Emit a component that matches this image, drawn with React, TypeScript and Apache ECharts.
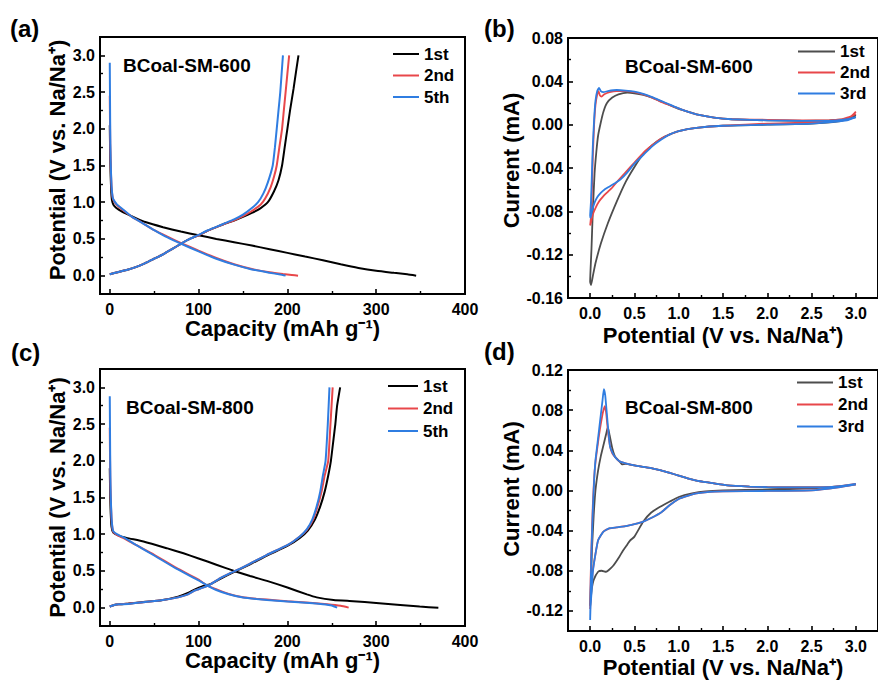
import React, { useEffect, useRef } from "react";
import * as echarts from "echarts";

// ---------- tick values ----------
const capMajor = [0, 100, 200, 300, 400];
const capMinor = [50, 150, 250, 350];
const potMajor = [0, 0.5, 1, 1.5, 2, 2.5, 3];
const potMinor = [0.25, 0.75, 1.25, 1.75, 2.25, 2.75];
const curBMajor = [-0.16, -0.12, -0.08, -0.04, 0, 0.04, 0.08];
const curBMinor = [-0.14, -0.1, -0.06, -0.02, 0.02, 0.06];
const curDMajor = [-0.12, -0.08, -0.04, 0, 0.04, 0.08, 0.12];
const curDMinor = [-0.1, -0.06, -0.02, 0.02, 0.06, 0.1];

const gcdNames = ["1st", "2nd", "5th"];
const cvNames = ["1st", "2nd", "3rd"];

// ---------- (a) BCoal-SM-600 GCD: [capacity mAh/g, potential V] ----------
const a1Dis = [[0,2.05],[0.5,1.6],[1,1.35],[2,1.08],[3,1.0],[5,0.95],[10,0.9],[19,0.84],[30,0.78],[40,0.73],[60,0.66],[80,0.6],[100,0.55],[120,0.5],[140,0.455],[160,0.41],[180,0.36],[200,0.31],[220,0.26],[240,0.21],[260,0.155],[280,0.105],[300,0.066],[320,0.038],[335,0.018],[345,0.0]];
const a2Dis = [[0,2.45],[0.5,1.8],[1,1.5],[2,1.2],[3,1.08],[4,1.03],[8,0.96],[15,0.89],[25,0.8],[35,0.73],[50,0.62],[65,0.53],[81,0.44],[100,0.34],[120,0.24],[140,0.155],[160,0.09],[180,0.045],[195,0.022],[205,0.01],[212,0.0]];
const a5Dis = [[0,2.9],[0.5,2.0],[1,1.55],[2,1.22],[3,1.09],[4,1.04],[8,0.97],[15,0.9],[25,0.8],[35,0.73],[50,0.62],[65,0.52],[81,0.43],[100,0.33],[120,0.23],[140,0.15],[160,0.085],[180,0.04],[192,0.015],[198,0.0]];
const a1Chg = [[0,0.02],[10,0.05],[20,0.08],[30,0.12],[40,0.17],[50,0.23],[60,0.29],[70,0.36],[81,0.44],[90,0.5],[100,0.55],[110,0.61],[120,0.66],[130,0.71],[140,0.75],[150,0.8],[160,0.855],[170,0.92],[178,1.0],[185,1.15],[190,1.3],[194,1.5],[197,1.75],[200,2.0],[203,2.25],[207,2.55],[210,2.8],[212.5,3.0]];
const a2Chg = [[0,0.02],[10,0.05],[20,0.08],[30,0.12],[40,0.17],[50,0.23],[60,0.29],[70,0.36],[81,0.44],[90,0.5],[100,0.55],[110,0.61],[120,0.66],[130,0.71],[140,0.755],[150,0.81],[160,0.88],[170,0.97],[175,1.05],[181,1.2],[185,1.35],[188,1.5],[191,1.75],[194,2.0],[196,2.25],[198,2.5],[200,2.75],[202,3.0]];
const a5Chg = [[0,0.02],[10,0.05],[20,0.08],[30,0.12],[40,0.17],[50,0.23],[60,0.29],[70,0.36],[81,0.44],[90,0.5],[100,0.555],[110,0.615],[120,0.665],[130,0.715],[140,0.765],[150,0.83],[160,0.92],[167,1.0],[173,1.12],[178,1.27],[183.5,1.5],[186,1.75],[188,2.0],[190,2.25],[192,2.5],[193.5,2.75],[195,3.0]];

// ---------- (c) BCoal-SM-800 GCD ----------
const c1Dis = [[0,1.9],[0.5,1.5],[1,1.3],[2,1.1],[4,1.02],[10,0.98],[19,0.95],[38,0.9],[64,0.81],[83,0.74],[100,0.67],[120,0.585],[140,0.5],[158,0.43],[177,0.365],[200,0.275],[222,0.18],[233,0.14],[252,0.105],[274,0.088],[300,0.064],[327,0.036],[349,0.014],[370,0.0]];
const c2Dis = [[0,2.45],[0.5,1.8],[1,1.5],[2,1.2],[3,1.08],[4,1.03],[8,0.99],[15,0.95],[30,0.85],[50,0.72],[75,0.54],[100,0.38],[110,0.3],[120,0.25],[133,0.19],[150,0.142],[165,0.122],[177,0.11],[200,0.088],[225,0.068],[245,0.047],[260,0.025],[269,0.0]];
const c5Dis = [[0,2.88],[0.5,2.0],[1,1.55],[2,1.22],[3,1.09],[4,1.04],[8,1.0],[15,0.96],[30,0.85],[50,0.71],[75,0.53],[100,0.37],[110,0.3],[120,0.24],[133,0.185],[150,0.138],[165,0.117],[177,0.105],[200,0.085],[225,0.063],[240,0.047],[250,0.03],[256,0.0]];
const c1Chg = [[0,0.015],[5,0.035],[10,0.045],[21,0.055],[40,0.08],[58,0.1],[77,0.15],[88,0.2],[96,0.25],[104,0.29],[113,0.32],[124,0.39],[139,0.48],[158,0.59],[177,0.71],[200,0.84],[214,0.95],[223,1.05],[231,1.2],[237,1.38],[242,1.58],[246,1.8],[249,2.0],[252,2.3],[254,2.5],[256,2.75],[259.4,3.0]];
const c2Chg = [[0,0.015],[5,0.035],[10,0.045],[21,0.052],[40,0.078],[58,0.1],[77,0.14],[88,0.18],[96,0.235],[104,0.27],[113,0.315],[124,0.4],[134,0.46],[145,0.52],[158,0.6],[177,0.72],[200,0.85],[214,0.97],[222,1.06],[229,1.2],[234,1.38],[238.5,1.58],[242,1.8],[246,2.0],[248.5,2.5],[251,3.0]];
const c5Chg = [[0,0.015],[5,0.035],[10,0.045],[21,0.05],[40,0.077],[58,0.1],[77,0.14],[88,0.18],[96,0.235],[104,0.27],[113,0.315],[124,0.4],[134,0.46],[145,0.52],[158,0.6],[177,0.72],[200,0.85],[214,0.97],[222,1.07],[228,1.2],[233,1.38],[237,1.58],[240,1.8],[243,2.0],[245.5,2.5],[247.4,3.0]];

// ---------- (b) BCoal-SM-600 CV: [potential V, current mA] ----------
const b1 = [[3.0,0.007],[2.8,0.003],[2.5,0.001],[2.0,0.0],[1.5,-0.001],[1.2,-0.003],[1.0,-0.006],[0.9,-0.009],[0.8,-0.013],[0.7,-0.019],[0.6,-0.027],[0.5,-0.039],[0.4,-0.053],[0.3,-0.071],[0.2,-0.091],[0.12,-0.11],[0.06,-0.128],[0.03,-0.14],[0.01,-0.148],[0.0,-0.145],[0.015,-0.115],[0.03,-0.08],[0.05,-0.045],[0.07,-0.025],[0.09,-0.01],[0.12,0.002],[0.15,0.012],[0.19,0.02],[0.25,0.025],[0.32,0.028],[0.42,0.0295],[0.5,0.029],[0.6,0.0275],[0.7,0.025],[0.8,0.0215],[0.9,0.018],[1.0,0.0145],[1.1,0.012],[1.2,0.0095],[1.4,0.0065],[1.6,0.005],[2.0,0.004],[2.4,0.0035],[2.7,0.004],[2.9,0.005],[3.0,0.009]];
const b2 = [[3.0,0.012],[2.95,0.008],[2.8,0.004],[2.5,0.002],[2.0,0.001],[1.5,-0.001],[1.2,-0.003],[1.0,-0.006],[0.9,-0.009],[0.8,-0.013],[0.7,-0.019],[0.6,-0.026],[0.5,-0.035],[0.4,-0.044],[0.3,-0.053],[0.25,-0.058],[0.2,-0.062],[0.15,-0.066],[0.1,-0.071],[0.06,-0.077],[0.03,-0.083],[0.01,-0.09],[0.0,-0.093],[0.01,-0.085],[0.02,-0.06],[0.03,-0.03],[0.045,0.0],[0.06,0.018],[0.08,0.028],[0.095,0.031],[0.11,0.027],[0.13,0.026],[0.16,0.028],[0.22,0.03],[0.3,0.031],[0.4,0.031],[0.5,0.03],[0.6,0.028],[0.7,0.025],[0.8,0.021],[0.9,0.018],[1.0,0.015],[1.1,0.012],[1.2,0.0095],[1.4,0.0065],[1.6,0.005],[2.0,0.0045],[2.4,0.004],[2.7,0.004],[2.9,0.0055],[3.0,0.01]];
const b3 = [[3.0,0.007],[2.9,0.004],[2.5,0.001],[2.0,0.0],[1.5,-0.001],[1.2,-0.003],[1.0,-0.006],[0.9,-0.009],[0.8,-0.014],[0.7,-0.02],[0.6,-0.028],[0.5,-0.036],[0.42,-0.044],[0.35,-0.05],[0.28,-0.054],[0.22,-0.057],[0.16,-0.06],[0.12,-0.063],[0.08,-0.067],[0.05,-0.072],[0.02,-0.08],[0.005,-0.086],[0.0,-0.084],[0.01,-0.07],[0.02,-0.045],[0.03,-0.02],[0.045,0.005],[0.06,0.022],[0.08,0.031],[0.1,0.034],[0.12,0.031],[0.15,0.03],[0.2,0.031],[0.3,0.032],[0.4,0.0315],[0.5,0.0305],[0.6,0.0285],[0.7,0.0255],[0.8,0.022],[0.9,0.0185],[1.0,0.015],[1.1,0.012],[1.2,0.0095],[1.4,0.0065],[1.6,0.005],[2.0,0.004],[2.4,0.0035],[2.7,0.0035],[2.9,0.005],[3.0,0.007]];

// ---------- (d) BCoal-SM-800 CV ----------
const d1 = [[3.0,0.006],[2.8,0.004],[2.5,0.002],[2.0,0.001],[1.5,0.0],[1.3,-0.001],[1.15,-0.003],[1.0,-0.0065],[0.9,-0.011],[0.79,-0.0163],[0.69,-0.022],[0.6,-0.031],[0.5,-0.046],[0.45,-0.05],[0.41,-0.055],[0.37,-0.06],[0.33,-0.066],[0.26,-0.075],[0.18,-0.081],[0.13,-0.08],[0.09,-0.081],[0.04,-0.089],[0.02,-0.097],[0.01,-0.105],[0.0,-0.115],[0.01,-0.09],[0.02,-0.06],[0.04,-0.025],[0.06,0.0],[0.09,0.02],[0.12,0.034],[0.15,0.045],[0.18,0.056],[0.2,0.063],[0.22,0.055],[0.25,0.042],[0.28,0.034],[0.33,0.029],[0.36,0.026],[0.4,0.0265],[0.5,0.025],[0.6,0.0235],[0.7,0.022],[0.8,0.02],[0.9,0.0175],[1.0,0.0148],[1.1,0.012],[1.2,0.0098],[1.35,0.0077],[1.55,0.005],[1.8,0.0038],[2.0,0.0033],[2.3,0.003],[2.6,0.003],[2.8,0.004],[3.0,0.006]];
const d2 = [[3.0,0.006],[2.8,0.003],[2.5,0.0],[2.0,-0.0005],[1.5,-0.001],[1.35,-0.0014],[1.2,-0.003],[1.1,-0.0055],[1.0,-0.0085],[0.9,-0.0145],[0.8,-0.022],[0.7,-0.027],[0.6,-0.031],[0.5,-0.0335],[0.4,-0.0356],[0.3,-0.0368],[0.22,-0.0378],[0.15,-0.041],[0.09,-0.0496],[0.055,-0.066],[0.03,-0.08],[0.015,-0.095],[0.005,-0.105],[0.0,-0.118],[0.005,-0.09],[0.015,-0.055],[0.03,-0.015],[0.045,0.012],[0.06,0.028],[0.08,0.042],[0.1,0.055],[0.12,0.066],[0.145,0.078],[0.165,0.084],[0.18,0.078],[0.2,0.06],[0.225,0.044],[0.25,0.037],[0.28,0.0335],[0.33,0.029],[0.4,0.027],[0.5,0.025],[0.6,0.0235],[0.7,0.022],[0.8,0.02],[0.9,0.0175],[1.0,0.0148],[1.1,0.012],[1.2,0.0098],[1.35,0.0077],[1.55,0.005],[1.8,0.0038],[2.0,0.0033],[2.3,0.003],[2.6,0.003],[2.8,0.004],[3.0,0.0065]];
const d3 = [[3.0,0.006],[2.8,0.003],[2.5,0.0],[2.0,-0.0005],[1.5,-0.001],[1.35,-0.0014],[1.2,-0.003],[1.1,-0.0055],[1.0,-0.0085],[0.9,-0.0145],[0.8,-0.022],[0.7,-0.027],[0.6,-0.031],[0.5,-0.0335],[0.4,-0.0356],[0.3,-0.0368],[0.22,-0.0376],[0.15,-0.041],[0.09,-0.0496],[0.055,-0.066],[0.03,-0.082],[0.018,-0.099],[0.005,-0.115],[0.0,-0.129],[0.005,-0.1],[0.015,-0.06],[0.03,-0.02],[0.045,0.01],[0.06,0.03],[0.08,0.045],[0.1,0.06],[0.12,0.075],[0.14,0.09],[0.155,0.101],[0.17,0.095],[0.19,0.075],[0.21,0.055],[0.225,0.0435],[0.25,0.038],[0.28,0.0335],[0.33,0.029],[0.4,0.027],[0.5,0.025],[0.6,0.0235],[0.7,0.022],[0.8,0.02],[0.9,0.0175],[1.0,0.0148],[1.1,0.012],[1.2,0.0098],[1.35,0.0077],[1.55,0.005],[1.8,0.0038],[2.0,0.0033],[2.3,0.003],[2.6,0.003],[2.8,0.004],[3.0,0.0065]];

const FONT = '"Liberation Sans", Arial, Helvetica, sans-serif';
const BLACK = "#000000";
const GRAY = "#4d4d4d";
const RED = "#e8474a";
const BLUE = "#2f7de1";

type AxisSpec = {
  grid: number;
  min: number;
  max: number;
  major: number[];
  minor: number[];
  fmt: (v: number) => string;
  name: string;
  nameGap: number;
  namePad?: number[];
};

function makeAxes(dim: "x" | "y", s: AxisSpec) {
  const pos = dim === "x" ? "bottom" : "left";
  const main = {
    type: "value",
    gridIndex: s.grid,
    position: pos,
    min: s.min,
    max: s.max,
    axisLine: { show: true, onZero: false, lineStyle: { color: "#000", width: 2 } },
    axisTick: { show: true, inside: true, length: 5, customValues: s.major, lineStyle: { color: "#000", width: 1.6 } },
    minorTick: { show: false },
    axisLabel: {
      show: true,
      customValues: s.major,
      formatter: (v: number) => s.fmt(v),
      margin: dim === "x" ? 7 : 5,
      color: "#000",
      fontSize: 16,
      fontWeight: "bold",
      fontFamily: FONT,
    },
    splitLine: { show: false },
    name: s.name,
    nameLocation: "middle",
    nameGap: s.nameGap,
    nameTextStyle: {
      color: "#000",
      fontSize: 22,
      fontWeight: "bold",
      fontFamily: FONT,
      padding: s.namePad || 0,
    },
  };
  const minor = {
    type: "value",
    gridIndex: s.grid,
    position: pos,
    min: s.min,
    max: s.max,
    axisLine: { show: false, onZero: false },
    axisTick: { show: true, inside: true, length: 3, customValues: s.minor, lineStyle: { color: "#000", width: 1.4 } },
    axisLabel: { show: false },
    splitLine: { show: false },
  };
  return [main, minor];
}

const f0 = (v: number) => String(Math.round(v));
const f1 = (v: number) => v.toFixed(1);
const f2 = (v: number) => v.toFixed(2);

export default function App() {
  const ref = useRef<HTMLDivElement>(null);
  useEffect(() => {
    if (!ref.current) return;
    const chart = echarts.init(ref.current, null, { renderer: "svg" });

    const grids = [
      { left: 100, top: 37, width: 365, height: 257 },
      { left: 568, top: 38, width: 310, height: 260 },
      { left: 100, top: 369, width: 365, height: 257 },
      { left: 568, top: 370, width: 310, height: 261 },
    ].map((g) => ({ ...g, show: true, borderColor: "#000", borderWidth: 2, backgroundColor: "transparent" }));

    const capName = "Capacity (mAh g\u207B\u00B9)";
    const potName = "Potential (V vs. Na/Na\u207A)";
    const curName = "Current (mA)";

    const xAxis = [
      ...makeAxes("x", { grid: 0, min: -11, max: 400, major: capMajor, minor: capMinor, fmt: f0, name: capName, nameGap: 23 }),
      ...makeAxes("x", { grid: 1, min: -0.25, max: 3.25, major: potMajor, minor: potMinor, fmt: f1, name: potName, nameGap: 26 }),
      ...makeAxes("x", { grid: 2, min: -11, max: 400, major: capMajor, minor: capMinor, fmt: f0, name: capName, nameGap: 22 }),
      ...makeAxes("x", { grid: 3, min: -0.25, max: 3.25, major: potMajor, minor: potMinor, fmt: f1, name: potName, nameGap: 25 }),
    ];
    const yAxis = [
      ...makeAxes("y", { grid: 0, min: -0.25, max: 3.25, major: potMajor, minor: potMinor, fmt: f1, name: potName, nameGap: 32, namePad: [0, 0, 0, 11] }),
      ...makeAxes("y", { grid: 1, min: -0.16, max: 0.08, major: curBMajor, minor: curBMinor, fmt: f2, name: curName, nameGap: 42, namePad: [0, 0, 0, 15] }),
      ...makeAxes("y", { grid: 2, min: -0.25, max: 3.25, major: potMajor, minor: potMinor, fmt: f1, name: potName, nameGap: 32 }),
      ...makeAxes("y", { grid: 3, min: -0.14, max: 0.12, major: curDMajor, minor: curDMinor, fmt: f2, name: curName, nameGap: 42, namePad: [0, 0, 0, 23] }),
    ];

    const line = (name: string, data: number[][], color: string, panel: number, width = 2) => ({
      type: "line",
      name,
      data,
      xAxisIndex: panel * 2,
      yAxisIndex: panel * 2,
      showSymbol: false,
      symbol: "none",
      smooth: 0.15,
      clip: true,
      lineStyle: { color, width },
      itemStyle: { color },
      emphasis: { disabled: true },
    });

    const series = [
      line(gcdNames[0], a1Dis, BLACK, 0), line(gcdNames[0], a1Chg, BLACK, 0),
      line(gcdNames[1], a2Dis, RED, 0), line(gcdNames[1], a2Chg, RED, 0),
      line(gcdNames[2], a5Dis, BLUE, 0), line(gcdNames[2], a5Chg, BLUE, 0),
      line(cvNames[0], b1, GRAY, 1, 1.8),
      line(cvNames[1], b2, RED, 1, 1.8),
      line(cvNames[2], b3, BLUE, 1, 1.8),
      line(gcdNames[0], c1Dis, BLACK, 2), line(gcdNames[0], c1Chg, BLACK, 2),
      line(gcdNames[1], c2Dis, RED, 2), line(gcdNames[1], c2Chg, RED, 2),
      line(gcdNames[2], c5Dis, BLUE, 2), line(gcdNames[2], c5Chg, BLUE, 2),
      line(cvNames[0], d1, GRAY, 3, 1.8),
      line(cvNames[1], d2, RED, 3, 1.8),
      line(cvNames[2], d3, BLUE, 3, 1.8),
    ];

    const legend = (left: number, top: number, w: number, gap: number, names: string[], colors: string[]) => ({
      orient: "vertical",
      left,
      top,
      padding: 0,
      itemWidth: w,
      itemHeight: 2,
      itemGap: gap,
      icon: "rect",
      selectedMode: false,
      textStyle: { color: "#000", fontSize: 17, fontWeight: "bold", fontFamily: FONT },
      data: names.map((n, i) => ({ name: n, icon: "rect", itemStyle: { color: colors[i] } })),
    });

    const txt = (text: string, x: number, y: number, size: number) => ({
      type: "text",
      x,
      y,
      silent: true,
      style: { text, fill: "#000", fontSize: size, fontWeight: "bold", fontFamily: FONT, verticalAlign: "middle", textVerticalAlign: "middle" },
    });

    chart.setOption({
      animation: false,
      backgroundColor: "#ffffff",
      grid: grids,
      xAxis,
      yAxis,
      series,
      legend: [
        legend(393, 45.5, 26, 4.5, gcdNames, [BLACK, RED, BLUE]),
        legend(798, 43, 37, 4, cvNames, [GRAY, RED, BLUE]),
        legend(388, 377.5, 30, 5.5, gcdNames, [BLACK, RED, BLUE]),
        legend(797, 374, 36, 5, cvNames, [GRAY, RED, BLUE]),
      ],
      graphic: [
        txt("(a)", 10, 28, 24),
        txt("(b)", 484, 28, 24),
        txt("(c)", 11, 352, 24),
        txt("(d)", 484, 351, 24),
        txt("BCoal-SM-600", 123, 65, 19),
        txt("BCoal-SM-600", 625, 66, 19),
        txt("BCoal-SM-800", 126, 407, 19),
        txt("BCoal-SM-800", 625, 407, 19),
      ],
    });
    return () => chart.dispose();
  }, []);
  return <div ref={ref} style={{ position: "fixed", left: 0, top: 0, width: 878, height: 682 }} />;
}
